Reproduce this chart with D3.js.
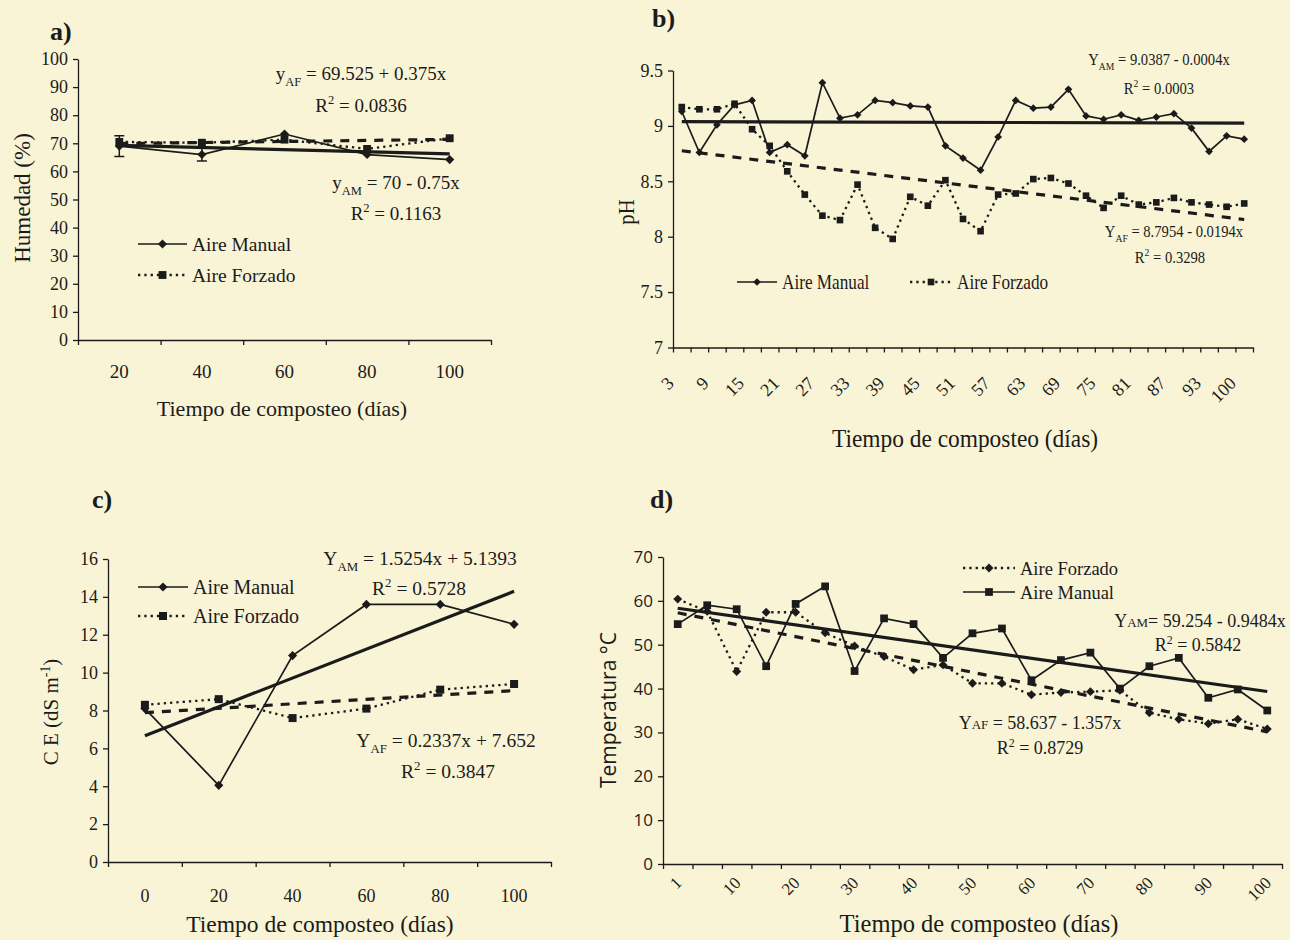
<!DOCTYPE html>
<html>
<head>
<meta charset="utf-8">
<script src="https://cdn.jsdelivr.net/npm/d3@7"></script>
<style>
  body { margin: 0; background: #f9f4d6; }
  svg { display: block; font-family: "Liberation Serif", "Times New Roman", serif; }
</style>
</head>
<body>
<svg id="fig" width="1290" height="940"></svg>
<script>
// a) Humedad
var diasA = ["20", "40", "60", "80", "100"];
var humedadAM = [69, 66, 73.3, 66, 64.2];
var humedadAMerr = [3.7, 2.3, 0, 0, 0];
var humedadAF = [70.5, 70.2, 71.3, 68, 71.8];
var ticksA = [0, 10, 20, 30, 40, 50, 60, 70, 80, 90, 100];

// b) pH
var diasB = [3, 6, 9, 12, 15, 18, 21, 24, 27, 30, 33, 36, 39, 42, 45, 48, 51, 54, 57, 60, 63, 66, 69, 72, 75, 78, 81, 84, 87, 90, 93, 96, 100];
var etiquetasB = [3, 9, 15, 21, 27, 33, 39, 45, 51, 57, 63, 69, 75, 81, 87, 93, 100];
var phAM = [9.13, 8.76, 9.01, 9.19, 9.23, 8.76, 8.83, 8.73, 9.39, 9.07, 9.10, 9.23, 9.21, 9.18, 9.17, 8.82, 8.71,
            8.60, 8.90, 9.23, 9.16, 9.17, 9.33, 9.09, 9.06, 9.10, 9.05, 9.08, 9.11, 8.98, 8.77, 8.91, 8.88];
var phAF = [9.17, 9.15, 9.15, 9.20, 8.97, 8.82, 8.59, 8.38, 8.19, 8.15, 8.47, 8.08, 7.98, 8.36, 8.28, 8.51, 8.16,
            8.05, 8.38, 8.39, 8.52, 8.53, 8.48, 8.37, 8.26, 8.37, 8.29, 8.31, 8.35, 8.31, 8.29, 8.27, 8.30];
var ticksB = [7, 7.5, 8, 8.5, 9, 9.5];

// c) CE
var diasC = ["0", "20", "40", "60", "80", "100"];
var ceAM = [8.1, 4.05, 10.9, 13.6, 13.6, 12.55];
var ceAF = [8.3, 8.6, 7.6, 8.1, 9.1, 9.4];
var ticksC = [0, 2, 4, 6, 8, 10, 12, 14, 16];

// d) Temperatura
var diasD = [1, 5, 10, 15, 20, 25, 30, 35, 40, 45, 50, 55, 60, 65, 70, 75, 80, 85, 90, 95, 100];
var etiquetasD = [1, 10, 20, 30, 40, 50, 60, 70, 80, 90, 100];
var tempAF = [60.4, 57.6, 43.9, 57.4, 57.4, 52.7, 49.7, 47.3, 44.3, 45.4, 41.2, 41.2, 38.6, 39.1, 39.3, 39.6, 34.5, 33.0, 32.0, 33.0, 30.8];
var tempAM = [54.7, 59.0, 58.1, 45.1, 59.3, 63.3, 44.0, 56.0, 54.7, 47.0, 52.6, 53.7, 41.9, 46.5, 48.2, 40.0, 45.1, 47.0, 37.9, 39.8, 35.0];
var ticksD = [0, 10, 20, 30, 40, 50, 60, 70];

// regression lines (y = a + b*x, x = sample number)
var regA = { AM: [70, -0.75], AF: [69.525, 0.375] };
var regB = { AM: [9.0387, -0.0004], AF: [8.7954, -0.0194] };
var regC = { AM: [5.1393, 1.5254], AF: [7.652, 0.2337] };
var regD = { AM: [59.254, -0.9484], AF: [58.637, -1.357] };

var ink = "#1b1b1b";
var svg = d3.select("#fig");

function addText(g, x, y, parts, o) {
  var t = g.append("text").attr("font-size", o.size).attr("fill", ink)
    .attr("text-anchor", o.anchor || "middle");
  if (o.family) t.attr("font-family", o.family);
  if (o.weight) t.attr("font-weight", o.weight);
  var tr = "translate(" + x + "," + y + ")";
  if (o.rotate) tr += " rotate(" + o.rotate + ")";
  if (o.sx) tr += " scale(" + o.sx + ",1)";
  t.attr("transform", tr);
  var shift = 0;
  parts.forEach(function(p) {
    var s = p[1] === "sub" ? o.size * 0.3 : (p[1] === "sup" ? -o.size * 0.4 : 0);
    var ts = t.append("tspan").text(p[0]).attr("dy", s - shift);
    if (p[1] === "sub" || p[1] === "sup") ts.attr("font-size", o.size * 0.66);
    if (p[1] === "sc") ts.attr("font-size", o.size * 0.72);
    shift = s;
  });
  return t;
}

function marker(g, type, x, y, size) {
  var sym = d3.symbol().type(d3.symbolSquare).size(size);
  g.append("path").attr("d", sym())
    .attr("transform", "translate(" + x + "," + y + ")" + (type === "diamond" ? " rotate(45)" : ""))
    .attr("fill", ink);
}

function drawPanel(p) {
  var g = svg.append("g");
  var n = p.cats.length;
  var xb = d3.scaleBand().domain(p.cats).range([p.x0, p.x1]);
  var cx = function(i) { return xb(p.cats[i]) + xb.bandwidth() / 2; };
  var xe = d3.scaleLinear().domain([0, n]).range([p.x0, p.x1]);
  var y = d3.scaleLinear().domain(p.yDomain).range([p.yBot, p.yTop]);

  var ax = g.append("g").attr("transform", "translate(0," + p.yBot + ")")
    .call(d3.axisBottom(xe).tickValues(d3.range(n + 1)).tickSize(5).tickSizeOuter(0).tickFormat(""));
  var ay = g.append("g").attr("transform", "translate(" + p.x0 + ",0)")
    .call(d3.axisLeft(y).tickValues(p.yTicks).tickSize(5).tickSizeOuter(0).tickPadding(5)
      .tickFormat(function(d) { return String(d); }));
  [ax, ay].forEach(function(a) {
    a.attr("font-family", null).attr("font-size", null);
    a.selectAll("path, line").attr("stroke", ink).attr("stroke-width", 1.3);
  });
  ay.selectAll("text").attr("font-size", p.yTickSize).attr("fill", ink)
    .attr("font-family", p.yFamily || null);

  // category labels
  var lab = g.append("g").attr("font-size", p.xTickSize).attr("fill", ink);
  var shown = p.cats.map(function(c, i) { return { c: c, i: i }; })
    .filter(function(d) { return p.xLabels.indexOf(d.c) >= 0; });
  lab.selectAll("text").data(shown).enter().append("text")
    .text(function(d) { return d.c; })
    .attr("text-anchor", p.rotated ? "end" : "middle")
    .attr("transform", function(d) {
      return p.rotated
        ? "translate(" + (cx(d.i) + p.labDx) + "," + (p.yBot + p.labDy) + ") rotate(-45)"
        : "translate(" + cx(d.i) + "," + (p.yBot + p.labDy) + ")";
    });

  // trend lines
  p.trends.forEach(function(t) {
    g.append("line")
      .attr("x1", cx(0)).attr("y1", y(t.c[0] + t.c[1] * 1))
      .attr("x2", cx(n - 1)).attr("y2", y(t.c[0] + t.c[1] * n))
      .attr("stroke", ink).attr("stroke-width", 3.2)
      .attr("stroke-dasharray", t.dashed ? "9,8" : null);
  });

  // series
  p.series.forEach(function(s) {
    var line = d3.line().x(function(d, i) { return cx(i); }).y(function(d) { return y(d); });
    g.append("path").datum(s.vals).attr("d", line).attr("fill", "none")
      .attr("stroke", ink).attr("stroke-width", s.dotted ? 2.3 : 1.7)
      .attr("stroke-dasharray", s.dotted ? "2.3,4" : null);
    if (s.err) {
      s.err.forEach(function(e, i) {
        if (!e) return;
        var x = cx(i);
        g.append("path")
          .attr("d", "M" + x + "," + y(s.vals[i] - e) + "V" + y(s.vals[i] + e) +
            "M" + (x - 5) + "," + y(s.vals[i] - e) + "H" + (x + 5) +
            "M" + (x - 5) + "," + y(s.vals[i] + e) + "H" + (x + 5))
          .attr("stroke", ink).attr("stroke-width", 1.5).attr("fill", "none");
      });
    }
    s.vals.forEach(function(v, i) { marker(g, s.symbol, cx(i), y(v), s.msize); });
  });

  // legend
  p.legend.forEach(function(l) {
    g.append("line").attr("x1", l.x1).attr("x2", l.x2).attr("y1", l.y).attr("y2", l.y)
      .attr("stroke", ink).attr("stroke-width", l.dotted ? 2.3 : 1.7)
      .attr("stroke-dasharray", l.dotted ? "2.3,4" : null);
    marker(g, l.symbol, (l.x1 + l.x2) / 2, l.y, l.msize);
    addText(g, l.x2 + 5, l.y + 7, [[l.text]], { size: p.legSize, anchor: "start", sx: p.legSx });
  });

  p.texts.forEach(function(t) { addText(g, t.x, t.y, t.parts, t.o); });
}

// ---------- a)
drawPanel({
  cats: diasA, xLabels: diasA, rotated: false, labDy: 38,
  x0: 78, x1: 491, yTop: 59, yBot: 340, yDomain: [0, 100], yTicks: ticksA,
  yTickSize: 18, xTickSize: 19, legSize: 19.5,
  trends: [{ c: regA.AM }, { c: regA.AF, dashed: true }],
  series: [
    { vals: humedadAM, err: humedadAMerr, symbol: "diamond", msize: 42 },
    { vals: humedadAF, dotted: true, symbol: "square", msize: 62 }
  ],
  legend: [
    { x1: 138, x2: 187, y: 244, symbol: "diamond", msize: 42, text: "Aire Manual" },
    { x1: 138, x2: 187, y: 275, symbol: "square", msize: 62, dotted: true, text: "Aire Forzado" }
  ],
  texts: [
    { x: 50, y: 40, parts: [["a)"]], o: { size: 26, anchor: "start", weight: "bold" } },
    { x: 361, y: 80, parts: [["y"], ["AF", "sub"], [" = 69.525 + 0.375x"]], o: { size: 19 } },
    { x: 361, y: 112, parts: [["R"], ["2", "sup"], [" = 0.0836"]], o: { size: 19 } },
    { x: 396, y: 189, parts: [["y"], ["AM", "sub"], [" = 70 - 0.75x"]], o: { size: 19 } },
    { x: 396, y: 220, parts: [["R"], ["2", "sup"], [" = 0.1163"]], o: { size: 19 } },
    { x: 30, y: 198, parts: [["Humedad (%)"]], o: { size: 23, rotate: -90 } },
    { x: 282, y: 416, parts: [["Tiempo de composteo (días)"]], o: { size: 22 } }
  ]
});

// ---------- b)
drawPanel({
  cats: diasB, xLabels: etiquetasB, rotated: true, labDx: -7, labDy: 37,
  x0: 673, x1: 1253, yTop: 70.5, yBot: 347.5, yDomain: [7, 9.5], yTicks: ticksB,
  yTickSize: 18, xTickSize: 18, legSize: 20, legSx: 0.86,
  trends: [{ c: regB.AM }, { c: regB.AF, dashed: true }],
  series: [
    { vals: phAM, symbol: "diamond", msize: 30 },
    { vals: phAF, dotted: true, symbol: "square", msize: 44 }
  ],
  legend: [
    { x1: 737, x2: 777, y: 282, symbol: "diamond", msize: 30, text: "Aire Manual" },
    { x1: 910, x2: 952, y: 282, symbol: "square", msize: 44, dotted: true, text: "Aire Forzado" }
  ],
  texts: [
    { x: 652, y: 27, parts: [["b)"]], o: { size: 26, anchor: "start", weight: "bold" } },
    { x: 1159, y: 65, parts: [["Y"], ["AM", "sub"], [" = 9.0387 - 0.0004x"]], o: { size: 17, sx: 0.86 } },
    { x: 1159, y: 94, parts: [["R"], ["2", "sup"], [" = 0.0003"]], o: { size: 17, sx: 0.86 } },
    { x: 1174, y: 237, parts: [["Y"], ["AF", "sub"], [" = 8.7954 - 0.0194x"]], o: { size: 17, sx: 0.86 } },
    { x: 1170, y: 263, parts: [["R"], ["2", "sup"], [" = 0.3298"]], o: { size: 17, sx: 0.86 } },
    { x: 634, y: 212, parts: [["pH"]], o: { size: 23, rotate: -90, sx: 0.9 } },
    { x: 965, y: 447, parts: [["Tiempo de composteo (días)"]], o: { size: 26, sx: 0.9 } }
  ]
});

// ---------- c)
drawPanel({
  cats: diasC, xLabels: diasC, rotated: false, labDy: 40,
  x0: 108, x1: 551, yTop: 559, yBot: 862, yDomain: [0, 16], yTicks: ticksC,
  yTickSize: 18, xTickSize: 18, legSize: 20,
  trends: [{ c: regC.AM }, { c: regC.AF, dashed: true }],
  series: [
    { vals: ceAM, symbol: "diamond", msize: 42 },
    { vals: ceAF, dotted: true, symbol: "square", msize: 64 }
  ],
  legend: [
    { x1: 138, x2: 188, y: 587, symbol: "diamond", msize: 42, text: "Aire Manual" },
    { x1: 138, x2: 188, y: 616, symbol: "square", msize: 64, dotted: true, text: "Aire Forzado" }
  ],
  texts: [
    { x: 92, y: 508, parts: [["c)"]], o: { size: 26, anchor: "start", weight: "bold" } },
    { x: 420, y: 565, parts: [["Y"], ["AM", "sub"], [" = 1.5254x + 5.1393"]], o: { size: 19.5 } },
    { x: 419, y: 595, parts: [["R"], ["2", "sup"], [" = 0.5728"]], o: { size: 19.5 } },
    { x: 446, y: 747, parts: [["Y"], ["AF", "sub"], [" = 0.2337x + 7.652"]], o: { size: 19.5 } },
    { x: 448, y: 778, parts: [["R"], ["2", "sup"], [" = 0.3847"]], o: { size: 19.5 } },
    { x: 58, y: 712, parts: [["C E (dS m"], ["-1", "sup"], [")"]], o: { size: 21, rotate: -90 } },
    { x: 320, y: 932, parts: [["Tiempo de composteo (días)"]], o: { size: 23.5 } }
  ]
});

// ---------- d)
drawPanel({
  cats: diasD, xLabels: etiquetasD, rotated: true, labDx: 5, labDy: 20,
  x0: 663, x1: 1282, yTop: 557, yBot: 864, yDomain: [0, 70], yTicks: ticksD,
  yTickSize: 17, yFamily: "'Open Sans', 'DejaVu Sans', sans-serif", xTickSize: 17, legSize: 18.5,
  trends: [{ c: regD.AM }, { c: regD.AF, dashed: true }],
  series: [
    { vals: tempAF, dotted: true, symbol: "diamond", msize: 40 },
    { vals: tempAM, symbol: "square", msize: 60 }
  ],
  legend: [
    { x1: 963, x2: 1015, y: 568, symbol: "diamond", msize: 40, dotted: true, text: "Aire Forzado" },
    { x1: 963, x2: 1015, y: 592, symbol: "square", msize: 60, text: "Aire Manual" }
  ],
  texts: [
    { x: 650, y: 508, parts: [["d)"]], o: { size: 26, anchor: "start", weight: "bold" } },
    { x: 1200, y: 627, parts: [["Y"], ["AM", "sc"], ["= 59.254 - 0.9484x"]], o: { size: 18 } },
    { x: 1198, y: 651, parts: [["R"], ["2", "sup"], [" = 0.5842"]], o: { size: 18 } },
    { x: 1040, y: 729, parts: [["Y"], ["AF", "sc"], [" = 58.637 - 1.357x"]], o: { size: 18 } },
    { x: 1040, y: 754, parts: [["R"], ["2", "sup"], [" = 0.8729"]], o: { size: 18 } },
    { x: 616, y: 710, parts: [["Temperatura °C"]], o: { size: 21, rotate: -90, family: "'Open Sans', 'DejaVu Sans', sans-serif" } },
    { x: 979, y: 932, parts: [["Tiempo de composteo (días)"]], o: { size: 24.5 } }
  ]
});
</script>
</body>
</html>
